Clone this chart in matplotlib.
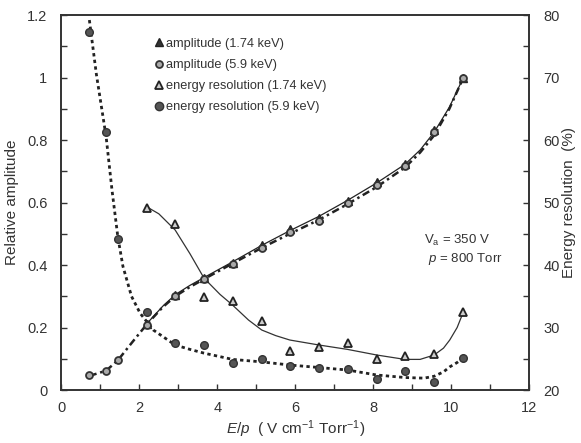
import matplotlib.pyplot as plt
from matplotlib.ticker import MultipleLocator

plt.rcParams['font.family'] = ['Liberation Sans', 'DejaVu Sans']
plt.rcParams['mathtext.fontset'] = 'custom'
plt.rcParams['mathtext.rm'] = 'Liberation Sans'
plt.rcParams['mathtext.it'] = 'Liberation Sans:italic'

# ---- data ----
ep = [0.72, 1.15, 1.45, 2.19, 2.92, 3.66, 4.39, 5.14, 5.86, 6.61, 7.34, 8.09, 8.81, 9.56, 10.31]
ep_174 = ep[3:]

amp_59 = [0.047, 0.062, 0.096, 0.208, 0.300, 0.354, 0.403, 0.456, 0.507, 0.540, 0.598, 0.656, 0.716, 0.825, 1.0]
amp_174 = [0.212, 0.303, 0.358, 0.407, 0.465, 0.515, 0.552, 0.606, 0.665, 0.722, 0.832, 1.0]

res_59 = [77.3, 61.3, 44.1, 32.5, 27.6, 27.2, 24.4, 24.9, 23.8, 23.6, 23.3, 21.8, 23.1, 21.3, 25.2]
res_174 = [49.1, 46.6, 34.9, 34.3, 31.1, 26.3, 26.9, 27.5, 25.0, 25.4, 25.7, 32.5]

# trend curves
fit_amp59_x = [0.72, 1.15, 1.45, 1.8, 2.19, 2.6, 2.92, 3.3, 3.66, 4.39, 5.14, 5.86, 6.61, 7.34, 8.09, 8.81, 9.2, 9.56, 9.95, 10.31]
fit_amp59_y = [0.045, 0.062, 0.095, 0.150, 0.210, 0.265, 0.300, 0.330, 0.355, 0.405, 0.455, 0.500, 0.545, 0.595, 0.650, 0.712, 0.760, 0.815, 0.900, 1.0]
fit_amp174_x = [2.19, 2.6, 2.92, 3.3, 3.66, 4.39, 5.14, 5.86, 6.61, 7.34, 8.09, 8.81, 9.2, 9.56, 9.95, 10.31]
fit_amp174_y = [0.212, 0.268, 0.305, 0.335, 0.360, 0.410, 0.463, 0.510, 0.556, 0.607, 0.663, 0.722, 0.768, 0.825, 0.905, 1.0]
fit_res174_x = [2.25, 2.5, 2.92, 3.3, 3.66, 4.07, 4.39, 4.8, 5.14, 5.5, 5.86, 6.61, 7.34, 8.09, 8.81, 9.2, 9.56, 9.8, 9.96, 10.15, 10.31]
fit_res174_y = [49.1, 48.2, 45.6, 41.8, 37.9, 35.3, 33.6, 31.2, 29.6, 28.7, 28.0, 27.2, 26.5, 25.6, 24.9, 24.9, 25.6, 26.7, 28.0, 30.0, 32.5]
fit_res59_x = [0.72, 0.9, 1.15, 1.3, 1.45, 1.58, 1.8, 2.02, 2.36, 2.92, 3.3, 3.66, 4.39, 5.14, 5.86, 6.61, 7.34, 8.09, 8.81, 9.3, 9.56, 9.8, 9.96, 10.15, 10.31]
fit_res59_y = [79.2, 70.5, 60.5, 52.0, 44.5, 39.8, 35.0, 32.3, 29.6, 27.2, 26.5, 25.9, 24.9, 24.5, 24.0, 23.6, 23.2, 22.4, 22.0, 21.9, 22.2, 22.9, 23.7, 24.4, 25.2]

ink = '#333333'

fig, ax = plt.subplots(figsize=(5.81, 4.43), dpi=100)
fig.subplots_adjust(left=0.1055, right=0.911, bottom=0.1196, top=0.966)
ax2 = ax.twinx()

# curves
ax.plot(fit_amp59_x, fit_amp59_y, color='#222222', lw=1.8,
        linestyle=(0, (3, 1.5, 1, 1.5)), zorder=2)
ax.plot(fit_amp174_x, fit_amp174_y, color='#222222', lw=0.9, zorder=2)
ax2.plot(fit_res174_x, fit_res174_y, color='#333333', lw=0.9, zorder=2)
ax2.plot(fit_res59_x, fit_res59_y, color='#222222', lw=2.0,
         linestyle=(0, (1.2, 1.2)), zorder=2)

# markers
ax2.plot(ep_174, res_174, '^', ms=5.5, mfc='#cccccc', mec='#222222', mew=1.3,
         ls='none', zorder=3)
ax2.plot(ep, res_59, 'o', ms=5.5, mfc='#555555', mec='#333333', mew=1,
         ls='none', zorder=3)
ax.plot(ep_174, amp_174, '^', ms=5.5, mfc='#333333', mec='#222222', mew=1,
        ls='none', zorder=3)
ax.plot(ep, amp_59, 'o', ms=5, mfc='#aaaaaa', mec='#333333', mew=1.3,
        ls='none', zorder=4)
ax.set_zorder(ax2.get_zorder() + 1)
ax.patch.set_visible(False)

# axes
ax.set_xlim(0, 12)
ax.set_ylim(0, 1.2)
ax2.set_ylim(20, 80)
ax.xaxis.set_major_locator(MultipleLocator(2))
ax.xaxis.set_minor_locator(MultipleLocator(1))
ax.yaxis.set_minor_locator(MultipleLocator(0.1))
ax2.yaxis.set_major_locator(MultipleLocator(10))
ax2.yaxis.set_minor_locator(MultipleLocator(5))
ax.set_yticks([0, 0.2, 0.4, 0.6, 0.8, 1.0, 1.2])
ax.set_yticklabels(['0', '0.2', '0.4', '0.6', '0.8', '1', '1.2'])
for a in (ax, ax2):
    a.tick_params(which='both', direction='in', length=4, width=1,
                  colors=ink, labelsize=10.5, pad=10)
    for s in a.spines.values():
        s.set_color(ink)
        s.set_linewidth(1.2)
ax.tick_params(axis='x', pad=8)

ax.set_xlabel(r'$\mathit{E/p}$  ( V cm$^{-1}$ Torr$^{-1}$)', fontsize=11,
              color=ink, labelpad=2)
ax.set_ylabel('Relative amplitude', fontsize=11, color=ink, labelpad=6)
ax2.set_ylabel('Energy resolution  (%)', fontsize=11, color=ink, labelpad=2)

# legend
handles = [
    plt.Line2D([], [], marker='^', ls='none', ms=6, mfc='#333333', mec='#222222'),
    plt.Line2D([], [], marker='o', ms=5, ls='none', mfc='#aaaaaa', mec='#333333', mew=1.3),
    plt.Line2D([], [], marker='^', ls='none', ms=6, mfc='#cccccc', mec='#222222', mew=1.3),
    plt.Line2D([], [], marker='o', ls='none', ms=6, mfc='#555555', mec='#333333'),
]
labels = ['amplitude (1.74 keV)', 'amplitude (5.9 keV)',
          'energy resolution (1.74 keV)', 'energy resolution (5.9 keV)']
leg = ax.legend(handles, labels, loc='upper left', bbox_to_anchor=(0.175, 0.97),
                frameon=False, fontsize=9.2, handlelength=0.6,
                handletextpad=0.3, labelspacing=0.72)
for t in leg.get_texts():
    t.set_color(ink)

ax.text(9.3, 0.478, r'V$_\mathrm{a}$ = 350 V', fontsize=9.5, color=ink, va='center')
ax.text(9.4, 0.42, r'$\mathit{p}$ = 800 Torr', fontsize=9.5, color=ink, va='center')

fig.savefig('out.png', dpi=100)
